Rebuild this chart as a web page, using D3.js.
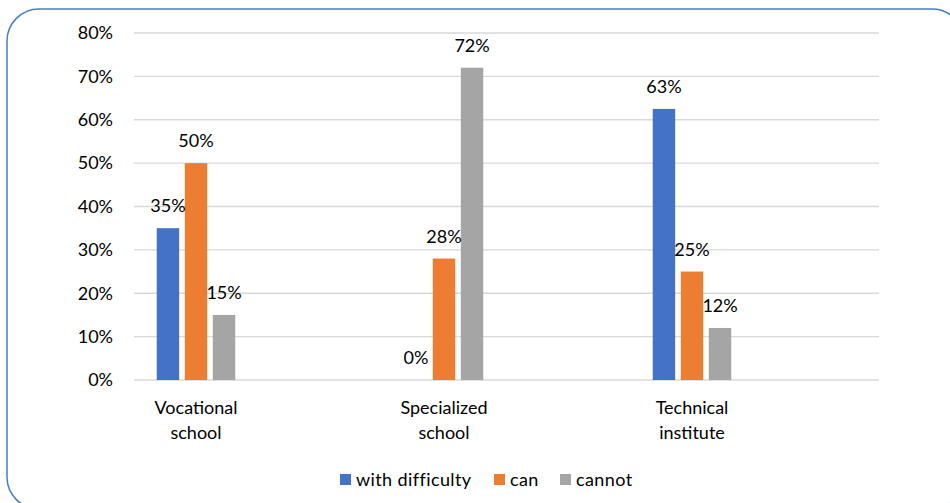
<!DOCTYPE html>
<html><head><meta charset="utf-8">
<script src="https://cdn.jsdelivr.net/npm/d3@7"></script>
<style>body{margin:0;background:#fff;} text{font-family:Lato,"Open Sans",sans-serif;fill:#000;}</style>
</head><body>
<svg id="c" width="950" height="503"></svg>
<script>
const categories = [["Vocational","school"],["Specialized","school"],["Technical","institute"]];
const seriesNames = ["with difficulty","can","cannot"];
const colors = ["#4472c4","#ed7d31","#a5a5a5"];
const withDifficulty = [35, 0, 62.5];
const can = [50, 28, 25];
const cannot = [15, 72, 12];
const valueLabels = [["35%","0%","63%"],["50%","28%","25%"],["15%","72%","12%"]];
const yTicks = [0,10,20,30,40,50,60,70,80];

const series = [withDifficulty, can, cannot];
const FS = "18px";
const svg = d3.select("#c");
svg.append("rect").attr("x",7).attr("y",9).attr("width",957).attr("height",500)
  .attr("rx",32).attr("fill","#fff").attr("stroke","#4a7ebb").attr("stroke-width",1.5);

const y = d3.scaleLinear().domain([0,80]).range([380,33]);
const catIdx = categories.map((d,i)=>i);
const x0 = d3.scaleBand().domain(catIdx).range([72,816]);
const x1 = d3.scaleBand().domain([0,1,2]).range([0,83]).paddingInner(0.2).paddingOuter(0.08);

// gridlines
svg.append("g").selectAll("line").data(yTicks).join("line")
  .attr("x1",134).attr("x2",879).attr("y1",d=>y(d)).attr("y2",d=>y(d))
  .attr("stroke","#d9d9d9").attr("stroke-width",1.3);

// y axis
const yAxis = d3.axisLeft(y).tickValues(yTicks).tickFormat(d=>d+"%").tickSize(0).tickPadding(0);
const ya = svg.append("g").attr("transform","translate(113,0)").call(yAxis);
ya.select(".domain").remove();
ya.selectAll("text").style("font-size",FS).style("font-family","Lato,sans-serif").attr("fill","#000");

// bars
const groups = svg.append("g").selectAll("g").data(catIdx).join("g")
  .attr("transform",c=>`translate(${x0(c)+x0.bandwidth()/2-41.5},0)`);
groups.selectAll("rect").data(c=>series.map((s,si)=>({si,v:s[c],c}))).join("rect")
  .attr("x",d=>x1(d.si)).attr("width",x1.bandwidth())
  .attr("y",d=>y(d.v)).attr("height",d=>y(0)-y(d.v)).attr("fill",d=>colors[d.si]);
groups.selectAll("text.lbl").data(c=>series.map((s,si)=>({si,v:s[c],c}))).join("text")
  .attr("class","lbl").attr("x",d=>x1(d.si)+x1.bandwidth()/2).attr("y",d=>y(d.v)-16)
  .attr("text-anchor","middle").style("font-size",FS)
  .text(d=>valueLabels[d.si][d.c]);

// x labels
const xl = svg.append("g").selectAll("text").data(catIdx).join("text")
  .attr("x",c=>x0(c)+x0.bandwidth()/2).attr("y",414).attr("text-anchor","middle").style("font-size",FS);
xl.selectAll("tspan").data(c=>categories[c].map(t=>({t,x:x0(c)+x0.bandwidth()/2}))).join("tspan")
  .attr("x",d=>d.x).attr("dy",(d,i)=>i?25:0).text(d=>d.t);

// legend
const legX = [340,494,560];
const lg = svg.append("g").selectAll("g").data(seriesNames).join("g")
  .attr("transform",(d,i)=>`translate(${legX[i]},474)`);
lg.append("rect").attr("width",11).attr("height",11).attr("fill",(d,i)=>colors[i]);
lg.append("text").attr("x",16).attr("y",11.5).style("font-size",FS).style("letter-spacing","0.4px").text(d=>d);
</script>
</body></html>
